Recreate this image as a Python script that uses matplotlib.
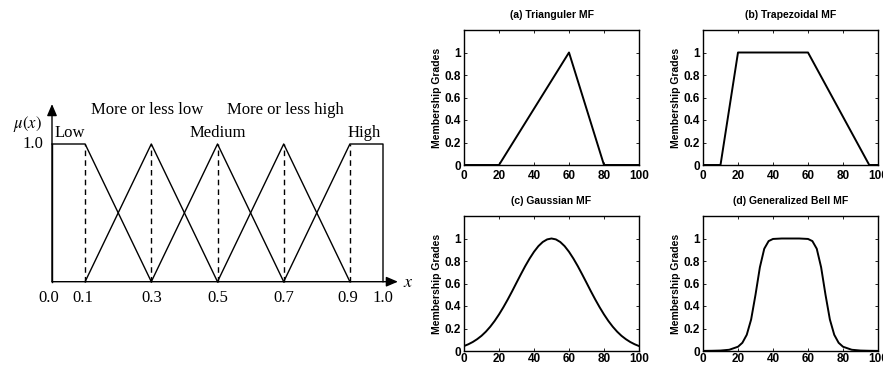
import matplotlib
matplotlib.use("Agg")
import matplotlib.pyplot as plt

plt.rcParams['mathtext.fontset'] = 'stix'

# left diagram: linguistic terms on [0, 1]
term_names = ['Low', 'More or less low', 'Medium', 'More or less high', 'High']
term_x = [
    [0.0, 0.1, 0.3],
    [0.1, 0.3, 0.5],
    [0.3, 0.5, 0.7],
    [0.5, 0.7, 0.9],
    [0.7, 0.9, 1.0, 1.0],
]
term_y = [
    [1, 1, 0],
    [0, 1, 0],
    [0, 1, 0],
    [0, 1, 0],
    [0, 1, 1, 0],
]
peaks = [0.1, 0.3, 0.5, 0.7, 0.9]
tick_labels = ['0.0', '0.1', '0.3', '0.5', '0.7', '0.9', '1.0']
tick_pos = [-0.01, 0.093, 0.3, 0.5, 0.7, 0.895, 1.0]

# right panels
tri_x = [0, 20, 60, 80, 100]
tri_y = [0, 0, 1, 0, 0]
trap_x = [0, 10, 20, 60, 95, 100]
trap_y = [0, 0, 1, 1, 0, 0]
gauss_x = [0, 2.5, 5, 7.5, 10, 12.5, 15, 17.5, 20, 22.5, 25, 27.5, 30, 32.5, 35, 37.5, 40, 42.5, 45, 47.5, 50,
           52.5, 55, 57.5, 60, 62.5, 65, 67.5, 70, 72.5, 75, 77.5, 80, 82.5, 85, 87.5, 90, 92.5, 95, 97.5, 100]
gauss_y = [0.044, 0.060, 0.080, 0.105, 0.135, 0.172, 0.216, 0.267, 0.325, 0.389, 0.458, 0.531, 0.607,
           0.682, 0.755, 0.822, 0.882, 0.932, 0.969, 0.992, 1.0,
           0.992, 0.969, 0.932, 0.882, 0.822, 0.755, 0.682, 0.607, 0.531, 0.458, 0.389, 0.325,
           0.267, 0.216, 0.172, 0.135, 0.105, 0.080, 0.060, 0.044]
bell_x = [0, 5, 10, 15, 20, 22.5, 25, 27.5, 30, 32.5, 35, 37.5, 40, 45, 50,
          55, 60, 62.5, 65, 67.5, 70, 72.5, 75, 77.5, 80, 85, 90, 95, 100]
bell_y = [0.001, 0.002, 0.004, 0.011, 0.038, 0.073, 0.144, 0.28, 0.5, 0.744, 0.909, 0.977, 0.996, 1.0, 1.0,
          1.0, 0.996, 0.977, 0.909, 0.744, 0.5, 0.28, 0.144, 0.073, 0.038, 0.011, 0.004, 0.002, 0.001]

fig = plt.figure(figsize=(8.83, 3.65), dpi=100)
W, H = 883, 365

# ---- left schematic ----
ax = fig.add_axes([52 / W, (H - 281.7) / H, 331 / W, 137.7 / H])
ax.set_xlim(0, 1)
ax.set_ylim(0, 1)
ax.axis('off')
serif = 'Liberation Serif'

for xs, ys in zip(term_x, term_y):
    ax.plot(xs, ys, color='black', lw=1.0, clip_on=False)
for p in peaks:
    ax.plot([p, p], [0, 1], color='black', lw=1.0, ls=(0, (4, 3)), clip_on=False)
ax.plot([0, 0], [0, 1], color='black', lw=1.0, clip_on=False)

ax.annotate('', xy=(0, 1.29), xytext=(0, 0), annotation_clip=False,
            arrowprops=dict(arrowstyle='-|>,head_length=0.7,head_width=0.3', color='black', lw=1.0,
                            shrinkA=0, shrinkB=0))
ax.annotate('', xy=(1.045, 0), xytext=(0, 0), annotation_clip=False,
            arrowprops=dict(arrowstyle='-|>,head_length=0.7,head_width=0.3', color='black', lw=1.0,
                            shrinkA=0, shrinkB=0))

ax.text(-0.073, 1.145, r'$\mu(x)$', fontsize=12, ha='center', va='center')
ax.text(1.075, 0.0, r'$x$', fontsize=13, ha='center', va='center')
ax.text(-0.057, 1.0, '1.0', family=serif, fontsize=12, ha='center', va='center')

label_pos = [(0.054, 1.08), (0.287, 1.247), (0.5, 1.08), (0.704, 1.247), (0.943, 1.08)]
for name, (lx, ly) in zip(term_names, label_pos):
    ax.text(lx, ly, name, family=serif, fontsize=12, ha='center', va='center')
for lab, tx in zip(tick_labels, tick_pos):
    ax.text(tx, -0.118, lab, family=serif, fontsize=12, ha='center', va='center')

# ---- right panels ----
panels = [
    ('(a) Trianguler MF', tri_x, tri_y, [464, 30]),
    ('(b) Trapezoidal MF', trap_x, trap_y, [703, 30]),
    ('(c) Gaussian MF', gauss_x, gauss_y, [464, 216]),
    ('(d) Generalized Bell MF', bell_x, bell_y, [703, 216]),
]
sans = 'Liberation Sans'
for title, xs, ys, (px, py) in panels:
    a = fig.add_axes([px / W, (H - py - 135) / H, 175 / W, 135 / H])
    a.plot(xs, ys, color='black', lw=1.4)
    a.set_xlim(0, 100)
    a.set_ylim(0, 1.2)
    a.set_xticks([0, 20, 40, 60, 80, 100])
    a.set_yticks([0, 0.2, 0.4, 0.6, 0.8, 1])
    a.set_yticklabels(['0', '0.2', '0.4', '0.6', '0.8', '1'])
    a.tick_params(direction='in', length=2, width=0.6, top=True, right=True, pad=2,
                  labelsize=8.5)
    a.tick_params(axis='x', pad=3.5 if py < 100 else 1.5)
    for lab in a.get_xticklabels() + a.get_yticklabels():
        lab.set_family(sans)
        lab.set_fontweight('bold')
    for s in a.spines.values():
        s.set_linewidth(1.0)
    a.set_title(title, family=sans, fontweight='bold', fontsize=7.5, pad=9)
    a.set_ylabel('Membership Grades', family=sans, fontweight='bold', fontsize=7.5, labelpad=2)

fig.savefig('out.png', dpi=100)
